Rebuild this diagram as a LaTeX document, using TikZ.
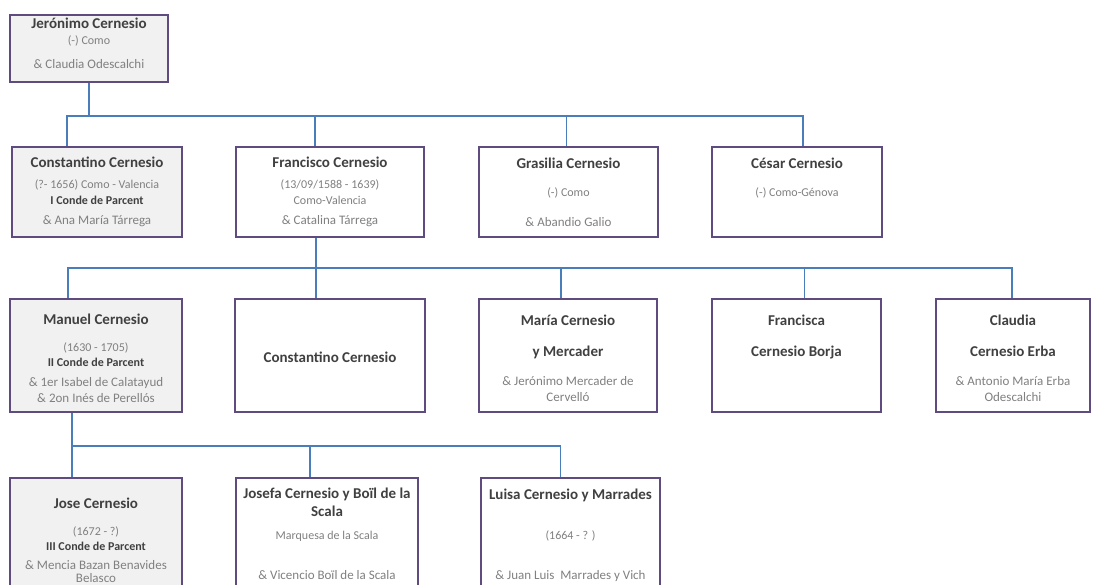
\documentclass[tikz,border=0pt]{standalone}
\usepackage{fontspec}
\setmainfont{Carlito}
\definecolor{boxline}{HTML}{5F4B7F}
\definecolor{linkblue}{HTML}{4A7EBB}
\definecolor{namegray}{HTML}{404040}
\definecolor{infogray}{HTML}{808080}
\definecolor{mainfill}{HTML}{F1F1F1}
\newcommand{\nm}[1]{{\fontsize{15}{12}\selectfont\bfseries\color{namegray}#1}}
\newcommand{\cnd}[1]{{\bfseries\color{namegray}#1}}
\newcommand{\wed}[1]{{\fontsize{13}{12}\selectfont#1}}

\begin{document}
\begin{tikzpicture}[x=1pt,y=-1pt,
    person/.style={draw=boxline,line width=2.5pt,fill=white,inner sep=0pt,align=center,
      font=\fontsize{12}{12}\selectfont,text=infogray},
    mainline/.style={person,fill=mainfill},
    link/.style={draw=linkblue,line width=1.8pt}]
  \useasboundingbox (0,0) rectangle (1093,585);
  \clip (0,0) rectangle (1093,585);

  % Generation 1
  \node[mainline,minimum width=158,minimum height=67] (jeronimo) at (89,48.5)
    {\nm{Jerónimo Cernesio}\\[4pt](-) Como\\[12pt]\wed{\& Claudia Odescalchi}\\[-2pt]\mbox{}};

  % Generation 2
  \node[mainline,minimum width=170,minimum height=90] (constantino) at (97,192)
    {\nm{Constantino Cernesio}\\[9pt](?- 1656) Como - Valencia\\[4pt]\cnd{I Conde de Parcent}\\[8pt]\wed{\& Ana María Tárrega}};
  \node[person,minimum width=188,minimum height=90] (francisco) at (330,192)
    {\nm{Francisco Cernesio}\\[9pt](13/09/1588 - 1639)\\[4pt]Como-Valencia\\[8pt]\wed{\& Catalina Tárrega}};
  \node[person,minimum width=179,minimum height=90] (grasilia) at (568.5,192)
    {\nm{Grasilia Cernesio}\\[16pt](-) Como\\[18pt]\wed{\& Abandio Galio}};
  \node[person,minimum width=170,minimum height=90] (cesar) at (797,192)
    {\nm{César Cernesio}\\[16pt](-) Como-Génova\\[17pt]\mbox{}};

  % Generation 3
  \node[mainline,minimum width=172,minimum height=113] (manuel) at (96,355.5)
    {\mbox{}\\[5pt]\nm{Manuel Cernesio}\\[15pt](1630 - 1705)\\[3pt]\cnd{II Conde de Parcent}\\[8pt]\wed{\& 1er Isabel de Calatayud}\\[4pt]\wed{\& 2on Inés de Perellós}};
  \node[person,minimum width=190,minimum height=113] (constantinoB) at (330,355.5)
    {\mbox{}\\[3pt]\nm{Constantino Cernesio}};
  \node[person,minimum width=178,minimum height=113] (maria) at (568,355.5)
    {\mbox{}\\[5pt]\nm{María Cernesio}\\[19pt]\nm{y Mercader}\\[17pt]\wed{\& Jerónimo Mercader de}\\[4pt]\wed{Cervelló}};
  \node[person,minimum width=169,minimum height=113] (francisca) at (796.5,355.5)
    {\nm{Francisca}\\[19pt]\nm{Cernesio Borja}\\[28pt]\mbox{}};
  \node[person,minimum width=154,minimum height=113] (claudia) at (1013,355.5)
    {\mbox{}\\[5pt]\nm{Claudia}\\[19pt]\nm{Cernesio Erba}\\[17pt]\wed{\& Antonio María Erba}\\[4pt]\wed{Odescalchi}};

  % Generation 4
  \node[mainline,minimum width=172,minimum height=124] (jose) at (96,540)
    {\nm{Jose Cernesio}\\[15pt](1672 - ?)\\[3pt]\cnd{III Conde de Parcent}\\[7pt]\wed{\& Mencia Bazan Benavides}\\[1pt]\wed{Belasco}};
  \node[person,minimum width=182,minimum height=112] (josefa) at (327,534)
    {\nm{Josefa Cernesio y Boïl de la}\\[4pt]\nm{Scala}\\[11pt]Marquesa de la Scala\\[28pt]\wed{\& Vicencio Boïl de la Scala}};
  \node[person,minimum width=179,minimum height=114] (luisa) at (570.5,535)
    {\nm{Luisa Cernesio y Marrades}\\[28pt](1664 - ? )\\[28pt]\wed{\& Juan Luis\ \ Marrades y Vich}};

  % Connectors
  \coordinate (bar1) at (0,116);
  \coordinate (bar2) at (0,268);
  \coordinate (bar3) at (0,446);
  \foreach \kid/\dx in {constantino/-30,francisco/-15,grasilia/-2,cesar/6}
    \draw[link] (jeronimo.south) -- (jeronimo.south |- bar1) -| ([xshift=\dx]\kid.north);
  \foreach \kid/\dx in {manuel/-28,constantinoB/-14,maria/-7,francisca/8,claudia/-1}
    \draw[link] ([xshift=-14]francisco.south) -- ([xshift=-14]francisco.south |- bar2) -| ([xshift=\dx]\kid.north);
  \foreach \kid/\dx in {jose/-24,josefa/-17,luisa/-10}
    \draw[link] ([xshift=-24]manuel.south) -- ([xshift=-24]manuel.south |- bar3) -| ([xshift=\dx]\kid.north);
\end{tikzpicture}
\end{document}
